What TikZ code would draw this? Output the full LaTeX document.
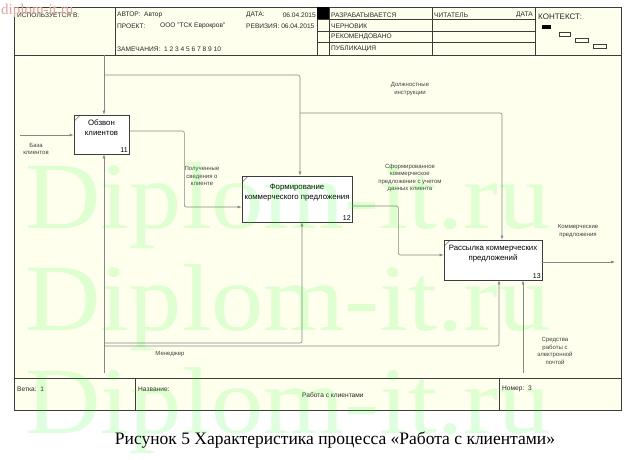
\documentclass[tikz,border=0pt]{standalone}
\usepackage{fontspec}
\setmainfont{Liberation Sans}
\newfontfamily\capfont{Liberation Serif}
\usepackage{tikz}
\usetikzlibrary{arrows.meta,positioning}
\definecolor{paper}{RGB}{255,255,238}
\definecolor{wire}{RGB}{135,135,135}
\definecolor{rule}{RGB}{60,60,60}
\definecolor{mark}{RGB}{232,160,160}
\newcommand{\hdfont}{\fontsize{6.6}{7}\selectfont}
\tikzset{
	act/.style={draw=rule, fill=white, line width=0.7pt, align=center, inner sep=0pt,
		font=\fontsize{7.8}{10}\selectfont},
	num/.style={anchor=south east, inner sep=1.5pt, font=\fontsize{7}{8}\selectfont},
	arr/.style={draw=wire, line width=0.6pt, rounded corners=2pt, -{Latex[length=4pt,width=3pt]}},
	lbl/.style={align=center, inner sep=0pt, text=black!75, font=\fontsize{6}{7.5}\selectfont},
	hd/.style={anchor=west, inner sep=0pt, text=black!85, font=\hdfont},
	wm/.style={text=green, text opacity=0.13, font=\capfont\fontsize{95}{95}\selectfont, xscale=1.1, anchor=base},
}

\begin{document}
\begin{tikzpicture}[x=1pt,y=-1pt]
	\useasboundingbox (0,0) rectangle (632,460);
	\fill[paper] (14,7) rectangle (621,410);
	\draw[rule, line width=0.7pt] (14,7) rectangle (621,410);
	\draw[rule, line width=0.6pt] (14,55) -- (621,55);
	\draw[rule, line width=0.6pt] (14,378) -- (621,378);
	\foreach \x in {115,317,329,432,535}
		\draw[rule, line width=0.5pt] (\x,7) -- (\x,55);
	\foreach \y in {19,31,42}
		\draw[rule, line width=0.5pt] (317,\y) -- (535,\y);
	\fill[black] (317,7) rectangle (329,19);
	\draw[rule, line width=0.5pt] (135,378) -- (135,410);
	\draw[rule, line width=0.5pt] (499,378) -- (499,410);

	\node[hd] (h1) at (17,15) {ИСПОЛЬЗУЕТСЯ В:};
	\node[hd] (h2) at (117,15) {АВТОР:\ \ Автор};
	\node[hd] (h3) at (117,26) {ПРОЕКТ:};
	\node[hd] (h4) at (160,26) {ООО "ТСК Еврокров"};
	\node[hd] (h5) at (117,49) {ЗАМЕЧАНИЯ:\ \ 1 2 3 4 5 6 7 8 9 10};
	\node[hd] (h6) at (246,15) {ДАТА:};
	\node[hd, anchor=east] (h7) at (316,15) {06.04.2015};
	\node[hd] (h8) at (246,26) {РЕВИЗИЯ: 06.04.2015};
	\node[hd] (s1) at (331,15) {РАЗРАБАТЫВАЕТСЯ};
	\node[hd] (s2) at (331,26) {ЧЕРНОВИК};
	\node[hd] (s3) at (331,37) {РЕКОМЕНДОВАНО};
	\node[hd] (s4) at (331,49) {ПУБЛИКАЦИЯ};
	\node[hd] (r1) at (434,15) {ЧИТАТЕЛЬ};
	\node[hd, anchor=east] (r2) at (533,15) {ДАТА};
	\node[hd, font=\fontsize{8}{9}\selectfont] (k1) at (538,17) {КОНТЕКСТ:};
	\fill[black] (542,25) rectangle (551,29);
	\draw[rule, line width=0.4pt] (559,32) rectangle (570,36);
	\draw[rule, line width=0.4pt] (575,38) rectangle (588,42);
	\draw[rule, line width=0.4pt] (593,44) rectangle (606,48);

	\node[hd] (f1) at (17,389) {Ветка:\ \ 1};
	\node[hd] (f2) at (138,389) {Название:};
	\node[hd] (f3) at (302,395) {Работа с клиентами};
	\node[hd] (f4) at (502,389) {Номер:\ \ 3};

	\node[act, minimum width=55pt, minimum height=39pt] (b11) at (101.5,134.5) {Обзвон\\клиентов\\[4pt]};
	\node[act, minimum width=110pt, minimum height=46pt] (b12) at (297,199) {Формирование\\коммерческого предложения\\[4pt]};
	\node[act, minimum width=98pt, minimum height=40pt] (b13) at (493,260) {Рассылка коммерческих\\предложений\\[4pt]};
	\foreach \b/\n in {b11/11,b12/12,b13/13}{
		\node[num] at (\b.south east) {\n};
		\draw[rule, line width=0.4pt] ([shift={(1pt,-6pt)}]\b.north west) -- ([shift={(6pt,-1pt)}]\b.north west);
	}

	\coordinate (inB) at (20,135);
	\coordinate (ctlT) at (104,55);
	\coordinate (jc1) at (104,75);
	\coordinate (jc2) at (300,113);
	\coordinate (outK) at (615,262);
	\coordinate (mecB) at (104,373);
	\coordinate (jm1) at (104,343);
	\coordinate (jm2) at (104,346);
	\coordinate (mecE) at (523,373);

	\draw[arr] (inB) -- (inB -| b11.west);
	\draw[arr] (ctlT) -- (ctlT |- b11.north);
	\draw[arr] (jc1) -| ([xshift=3pt]b12.north);
	\draw[arr] (jc2) -| ([xshift=9pt]b13.north);
	\draw[arr] ([yshift=3.5pt]b11.east) -- ++(55,0) |- ([yshift=-8pt]b12.west);
	\draw[arr] ([yshift=-7pt]b12.east) -- ++(46,0) |- ([yshift=5pt]b13.west);
	\draw[arr] ([yshift=-2pt]b13.east) -- (outK);
	\draw[arr] (mecB) -- (mecB |- b11.south);
	\draw[arr] (jm1) -| ([xshift=5pt]b12.south);
	\draw[arr] (jm2) -| ([xshift=6pt]b13.south);
	\draw[arr] (mecE) -- (mecE |- b13.south);

	\node[lbl] (l1) at (36,149) {База\\клиентов};
	\node[lbl] (l2) at (410,89) {Должностные\\инструкции};
	\node[lbl] (l3) at (202,176) {Полученные\\сведения о\\клиенте};
	\node[lbl] (l4) at (410,178) {Сформированное\\коммерческое\\предложение с учетом\\данных клиента};
	\node[lbl] (l5) at (578,231) {Коммерческие\\предложения};
	\node[lbl] (l6) at (170,354) {Менеджер};
	\node[lbl] (l7) at (555,351) {Средства\\работы с\\электронной\\почтой};

	\node[font=\capfont\fontsize{17.5}{18}\selectfont] (cap) at (335,440) {Рисунок 5 Характеристика процесса «Работа с клиентами»};

	\node[wm] (w1) at (288,228) {Diplom-it.ru};
	\node[wm] (w2) at (288,330) {Diplom-it.ru};
	\node[wm] (w3) at (288,433) {Diplom-it.ru};
	\node[anchor=west, inner sep=0pt, text=mark, font=\capfont\fontsize{15}{15}\selectfont] (w0) at (1,11) {diplom-it.ru};
\end{tikzpicture}
\end{document}
